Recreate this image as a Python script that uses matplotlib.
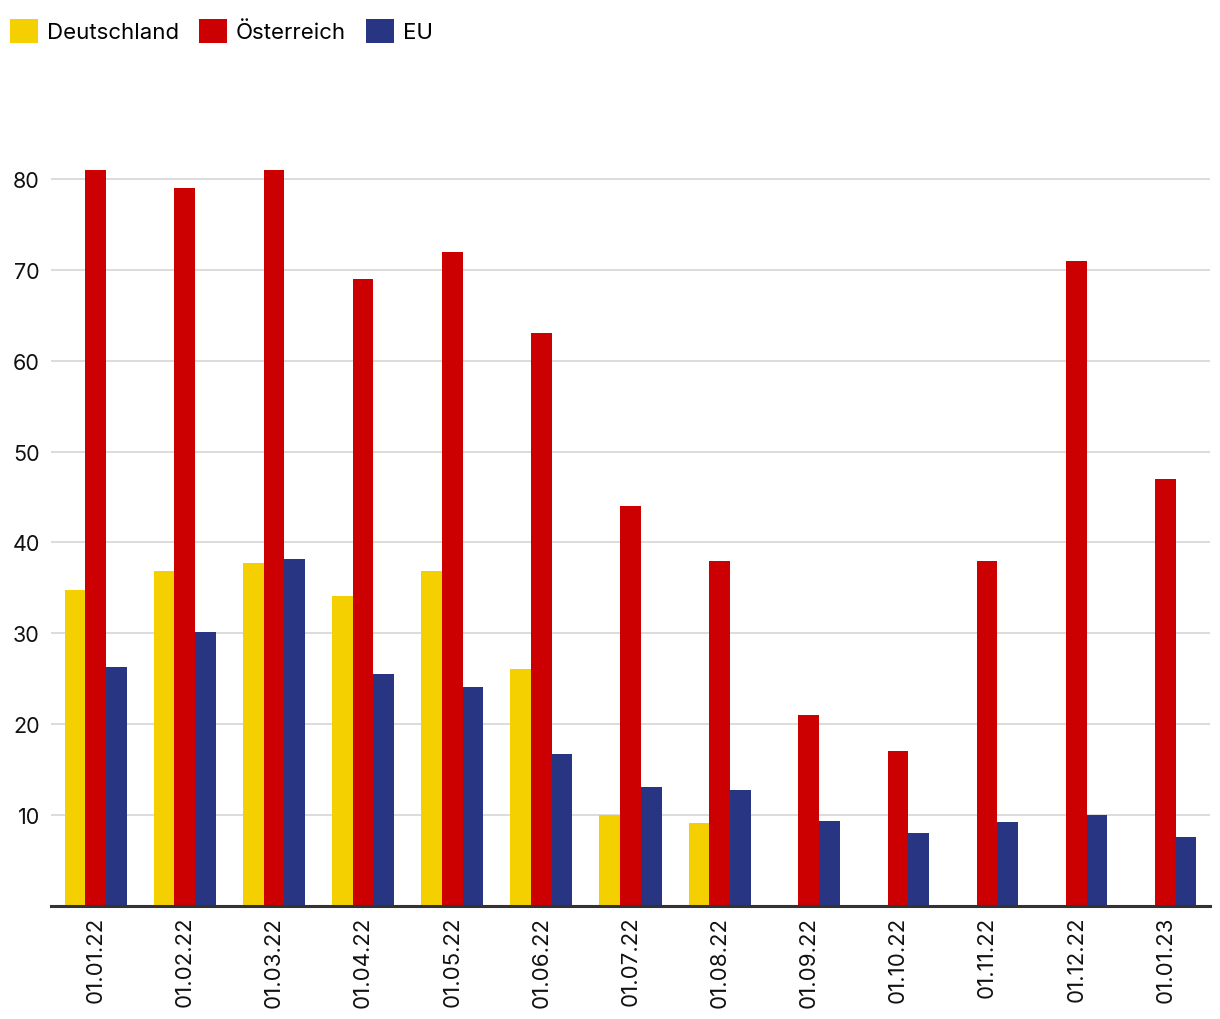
import matplotlib
matplotlib.use("Agg")
import matplotlib.pyplot as plt
import numpy as np
from matplotlib.patches import Patch

dates = ["01.01.22", "01.02.22", "01.03.22", "01.04.22", "01.05.22", "01.06.22",
         "01.07.22", "01.08.22", "01.09.22", "01.10.22", "01.11.22", "01.12.22", "01.01.23"]
deutschland = [34.8, 36.9, 37.7, 34.1, 36.9, 26.1, 10.0, 9.1, None, None, None, None, None]
oesterreich = [81, 79, 81, 69, 72, 63, 44, 38, 21, 17, 38, 71, 47]
eu = [26.3, 30.2, 38.2, 25.5, 24.1, 16.7, 13.1, 12.8, 9.35, 8.0, 9.2, 10.0, 7.6]
series_names = ["Deutschland", "Österreich", "EU"]
colors = ["#F5D000", "#CC0000", "#283583"]

plt.rcParams['font.family'] = ['Inter', 'DejaVu Sans']

fig = plt.figure(figsize=(12.2, 10.2), dpi=100)
W, H = 1220, 1020
left, right, top, bottom = 51, 1210, 89, 907
ax = fig.add_axes([left / W, 1 - bottom / H, (right - left) / W, (bottom - top) / H])

x = np.arange(len(dates))
bw = 0.232
for i, (vals, c) in enumerate(zip([deutschland, oesterreich, eu], colors)):
    v = np.array([np.nan if a is None else a for a in vals], dtype=float)
    ax.bar(x + (i - 1) * bw, np.nan_to_num(v), width=bw, color=c, zorder=3)

ax.set_xlim(-0.5, len(dates) - 0.5)
ax.set_ylim(0, 90)
ax.set_yticks([10, 20, 30, 40, 50, 60, 70, 80])
ax.yaxis.grid(True, color="#d9d9d9", linewidth=1.3, zorder=0)
ax.set_xticks(x)
ax.set_xticklabels(dates, rotation=90)
ax.tick_params(axis='both', length=0, colors="#111111")
ax.tick_params(axis='x', pad=7, labelsize=16)
ax.tick_params(axis='y', pad=8, labelsize=15.5)
for s in ["top", "right", "left"]:
    ax.spines[s].set_visible(False)
ax.spines["bottom"].set_color("#333333")
ax.spines["bottom"].set_linewidth(2.2)
ax.spines["bottom"].set_zorder(4)

handles = [Patch(facecolor=c, edgecolor='none') for c in colors]
fig.legend(handles, series_names, loc="upper left", bbox_to_anchor=(-0.007, 0.999), ncol=3,
           frameon=False, fontsize=16, handlelength=1.25, handleheight=1.3,
           handletextpad=0.4, columnspacing=0.9, borderaxespad=0.45)

fig.savefig("out.png", dpi=100, facecolor="white")
